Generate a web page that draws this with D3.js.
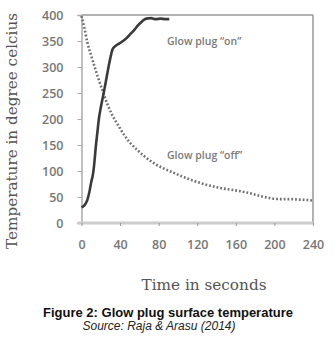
<!DOCTYPE html>
<html><head><meta charset="utf-8">
<script src="https://cdn.jsdelivr.net/npm/d3@7"></script>
<style>body{margin:0;background:#fff}svg{display:block}</style>
</head><body>
<script>
const xTicks = [0, 40, 80, 120, 160, 200, 240];
const yTicks = [0, 50, 100, 150, 200, 250, 300, 350, 400];
const onTime = [0, 3, 6, 8, 10, 12, 13, 15, 16.5, 18, 20, 23, 26, 28, 30, 32, 35, 39, 43, 47, 51, 55, 59, 63, 67, 72, 77, 82, 87, 91];
const onTemp = [30, 34, 44, 58, 78, 95, 110, 150, 175, 200, 222, 250, 280, 300, 318, 333, 340, 345, 350, 356, 364, 372, 381, 388, 393, 394, 392, 393, 392, 392];
const offTime = [0, 3, 6, 10, 14, 18, 22, 27, 32, 38, 44, 50, 58, 66, 75, 85, 95, 105, 115, 125, 135, 145, 155, 165, 175, 185, 195, 205, 215, 225, 235, 240];
const offTemp = [398, 375, 348, 322, 298, 275, 253, 228, 207, 188, 170, 155, 140, 127, 115, 105, 97, 89, 82, 76, 71, 67, 64, 61, 57, 52, 48, 46, 46, 45, 44, 43];
const labels = ["Glow plug \u201con\u201d", "Glow plug \u201coff\u201d"];

const W = 334, H = 345;
const svg = d3.select("body").append("svg").attr("width", W).attr("height", H);
const x = d3.scaleLinear().domain([0, 240]).range([81.5, 313]);
const y = d3.scaleLinear().domain([0, 400]).range([223, 15]);

// frame (top & right)
svg.append("line").attr("x1", x(0)).attr("x2", x(240)).attr("y1", y(400)).attr("y2", y(400))
  .attr("stroke", "#999").attr("stroke-width", 1.5);
svg.append("line").attr("x1", x(240)).attr("x2", x(240)).attr("y1", y(400)).attr("y2", y(0))
  .attr("stroke", "#999").attr("stroke-width", 1.5);

// y axis
const ya = svg.append("g").attr("transform", `translate(${x(0)},0)`)
  .call(d3.axisLeft(y).tickValues(yTicks).tickSize(4).tickPadding(14));
ya.select(".domain").attr("stroke", "#aaa").attr("stroke-width", 1.5);
ya.selectAll(".tick line").attr("stroke", "#aaa");
ya.selectAll("text").attr("fill", "#777").style("font-family", "'Open Sans', sans-serif")
  .style("font-size", "12.5px").style("font-weight", "600");

// x axis
const xa = svg.append("g").attr("transform", `translate(0,${y(0)})`)
  .call(d3.axisBottom(x).tickValues(xTicks).tickSize(3).tickPadding(14));
xa.select(".domain").attr("stroke", "#ccc").attr("stroke-width", 3)
  .attr("d", `M${x(0)-4},0H${x(240)}`);
xa.selectAll(".tick line").attr("stroke", "#999");
xa.selectAll("text").attr("fill", "#777").style("font-family", "'Open Sans', sans-serif")
  .style("font-size", "12.5px").style("font-weight", "600");

// lines
const line = d3.line().x(d => x(d[0])).y(d => y(d[1])).curve(d3.curveMonotoneX);
svg.append("path").datum(offTime.map((t, i) => [t, offTemp[i]]))
  .attr("d", line).attr("fill", "none").attr("stroke", "#707070")
  .attr("stroke-width", 2.6).attr("stroke-dasharray", "1.8,2");
svg.append("path").datum(onTime.map((t, i) => [t, onTemp[i]]))
  .attr("d", line).attr("fill", "none").attr("stroke", "#3a3a3a")
  .attr("stroke-width", 2.6);

// in-plot labels
svg.append("text").attr("x", 167).attr("y", 45).text(labels[0])
  .attr("fill", "#7a7a7a").style("font-family", "'Open Sans', sans-serif")
  .style("font-size", "10.5px").style("font-weight", "600");
svg.append("text").attr("x", 167).attr("y", 159).text(labels[1])
  .attr("fill", "#7a7a7a").style("font-family", "'Open Sans', sans-serif")
  .style("font-size", "10.5px").style("font-weight", "600");

// axis titles
svg.append("text").attr("transform", "translate(17,131) rotate(-90)")
  .attr("text-anchor", "middle").text("Temperature in degree celcius")
  .attr("fill", "#555").style("font-family", "'DejaVu Serif', serif")
  .style("font-size", "14.5px")
  .attr("textLength", 236).attr("lengthAdjust", "spacingAndGlyphs");
svg.append("text").attr("x", 204).attr("y", 290).attr("text-anchor", "middle")
  .text("Time in seconds").attr("fill", "#555")
  .style("font-family", "'DejaVu Serif', serif").style("font-size", "15px")
  .attr("textLength", 125).attr("lengthAdjust", "spacingAndGlyphs");

// caption
svg.append("text").attr("x", 168).attr("y", 317).attr("text-anchor", "middle")
  .text("Figure 2: Glow plug surface temperature").attr("fill", "#111")
  .style("font-family", "'Liberation Sans', Arial, sans-serif").style("font-size", "13px").style("font-weight", "bold");
svg.append("text").attr("x", 159).attr("y", 330).attr("text-anchor", "middle")
  .text("Source: Raja & Arasu (2014)").attr("fill", "#222")
  .style("font-family", "'Liberation Sans', Arial, sans-serif").style("font-size", "12px").style("font-style", "italic");
</script>
</body></html>
